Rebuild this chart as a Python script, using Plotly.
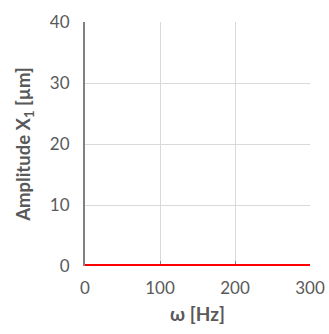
import plotly.graph_objects as go

freq_hz = [0, 25, 45, 50, 55, 75, 100, 125, 150, 175, 200, 225, 250, 275, 300]
amp_um = [0.0, 0.01, 0.02, 0.08, 0.02, 0.01, 0.01, 0.01, 0.01, 0.01, 0.01, 0.01, 0.01, 0.01, 0.01]

x_ticks = [0, 100, 200, 300]
y_ticks = [0, 10, 20, 30, 40]

fig = go.Figure()
fig.add_trace(go.Scatter(x=freq_hz, y=amp_um, mode="lines",
                         line=dict(color="#ff0000", width=4), showlegend=False))

font_fam = "Lato, 'Open Sans', sans-serif"
fig.update_layout(
    width=329, height=334,
    margin=dict(l=85, r=19, t=22, b=68),
    paper_bgcolor="white", plot_bgcolor="white",
    font=dict(family=font_fam, color="#595959", size=17),
    xaxis=dict(range=[0, 300], tickvals=x_ticks, showgrid=True, gridcolor="#d9d9d9",
               gridwidth=1, zeroline=False, showline=False,
               ticks="inside", ticklen=5, tickcolor="#808080", layer="below traces",
               ticklabelstandoff=10, automargin=False,
               title=dict(text="<b>ω [Hz]</b>", font=dict(size=19, color="#595959"), standoff=10)),
    yaxis=dict(range=[0, 40], tickvals=y_ticks, showgrid=True, gridcolor="#d9d9d9",
               gridwidth=1, zeroline=False, showline=True, linecolor="#808080", linewidth=2,
               ticks="", ticklabelstandoff=10, layer="below traces", automargin=False,
               title=dict(text="<b>Amplitude X<sub>1</sub> [µm]</b>", font=dict(size=18.5, color="#595959"), standoff=14)),
)
fig.write_html("out.html")
